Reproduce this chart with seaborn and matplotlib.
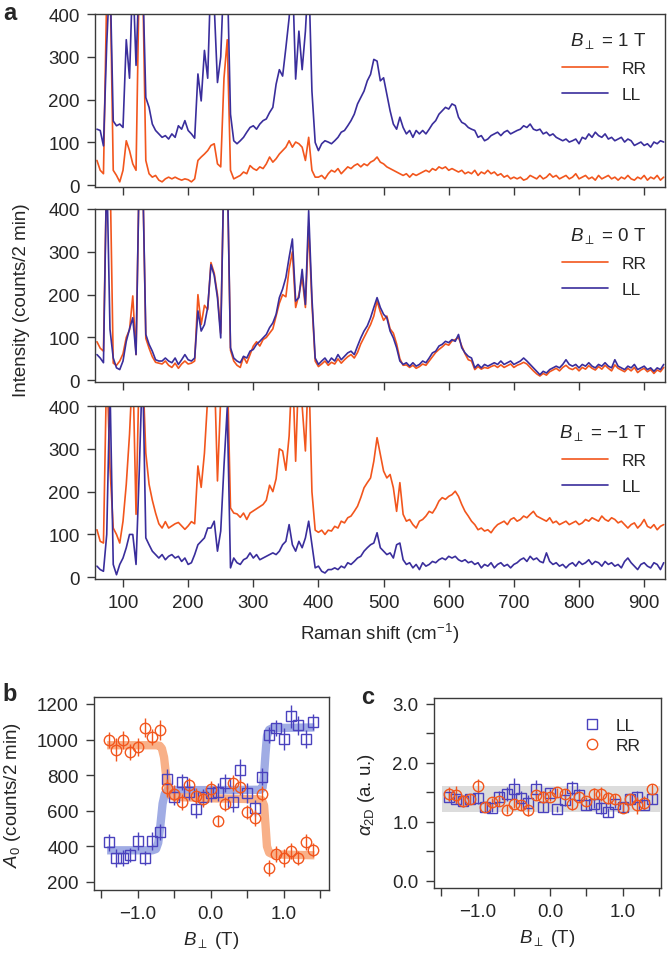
import numpy as np
import matplotlib.pyplot as plt
import pandas as pd
import seaborn as sns

# Raman shift grid (cm^-1)
shift = list(range(60, 935, 5))

# B = +1 T spectra
rr_1T = [58, 35, 27, 450, 500, 35, 23, 8, 35, 104,
         81, 50, 35, 500, 500, 58, 27, 19, 23, 12,
         8, 15, 19, 15, 19, 15, 12, 15, 13, 8,
         15, 58, 66, 73, 81, 93, 97, 50, 43, 250,
         340, 35, 15, 19, 23, 31, 27, 46, 39, 35,
         43, 39, 50, 66, 54, 62, 73, 81, 89, 104,
         89, 101, 97, 89, 58, 112, 35, 19, 19, 23,
         15, 27, 35, 31, 39, 27, 35, 43, 39, 46,
         50, 43, 50, 46, 54, 58, 66, 54, 50, 43,
         39, 35, 31, 27, 23, 27, 19, 27, 23, 27,
         31, 35, 31, 39, 35, 43, 39, 43, 35, 39,
         35, 31, 35, 27, 31, 27, 35, 23, 31, 27,
         35, 27, 31, 23, 27, 19, 23, 15, 19, 15,
         19, 12, 15, 23, 19, 15, 23, 15, 19, 27,
         19, 23, 15, 19, 23, 15, 19, 27, 15, 19,
         23, 15, 19, 12, 23, 15, 19, 23, 15, 19,
         12, 19, 15, 23, 15, 12, 19, 15, 23, 12,
         19, 15, 23, 12, 19]
ll_1T = [131, 128, 92, 330, 500, 150, 139, 143, 135, 340,
         250, 500, 280, 500, 500, 205, 182, 143, 128, 120,
         112, 116, 108, 120, 112, 139, 131, 151, 128, 120,
         110, 260, 197, 315, 250, 500, 420, 240, 300, 500,
         500, 166, 104, 97, 104, 112, 124, 135, 139, 131,
         143, 151, 155, 170, 182, 236, 270, 255, 321, 391,
         500, 248, 360, 270, 360, 500, 220, 100, 81, 97,
         104, 101, 97, 104, 112, 124, 128, 139, 151, 166,
         190, 205, 220, 244, 259, 294, 290, 244, 251, 213,
         174, 143, 131, 159, 135, 120, 128, 112, 128, 120,
         128, 120, 131, 143, 151, 166, 174, 182, 178, 190,
         186, 159, 147, 143, 135, 131, 128, 112, 116, 104,
         108, 116, 120, 124, 116, 124, 128, 120, 124, 128,
         131, 139, 135, 143, 131, 128, 131, 120, 124, 116,
         120, 112, 108, 104, 108, 101, 104, 108, 97, 112,
         108, 120, 112, 124, 116, 112, 120, 108, 112, 104,
         108, 112, 101, 108, 104, 93, 97, 101, 93, 97,
         89, 101, 97, 104, 101]

# B = 0 T spectra
rr_0T = [90, 75, 68, 500, 500, 40, 35, 45, 62, 100,
         118, 197, 60, 500, 500, 98, 75, 55, 42, 40,
         38, 45, 35, 30, 40, 28, 38, 45, 38, 40,
         45, 200, 130, 175, 165, 275, 250, 200, 110, 500,
         500, 70, 45, 35, 30, 55, 40, 60, 80, 90,
         80, 95, 100, 110, 120, 150, 180, 200, 195, 260,
         300, 170, 200, 240, 170, 360, 180, 45, 32, 38,
         45, 35, 42, 38, 50, 40, 48, 55, 60, 52,
         65, 85, 100, 115, 130, 150, 185, 160, 140, 150,
         120, 110, 85, 50, 35, 36, 30, 35, 28, 32,
         38, 35, 45, 55, 65, 72, 78, 85, 82, 92,
         95, 100, 80, 62, 48, 45, 25, 32, 26, 30,
         28, 32, 35, 30, 36, 30, 34, 38, 30, 35,
         38, 42, 38, 30, 22, 15, 10, 16, 12, 20,
         24, 28, 22, 30, 35, 28, 25, 30, 22, 30,
         26, 34, 28, 24, 32, 26, 35, 28, 22, 36,
         28, 24, 20, 28, 22, 30, 18, 24, 28, 20,
         25, 16, 24, 20, 30]
ll_0T = [60, 52, 41, 500, 119, 52, 29, 25, 45, 91,
         120, 146, 60, 500, 500, 107, 84, 68, 48, 45,
         45, 52, 45, 41, 52, 37, 48, 60, 48, 45,
         52, 162, 115, 130, 170, 270, 245, 193, 99, 500,
         500, 76, 52, 45, 41, 56, 52, 68, 72, 84,
         91, 99, 107, 123, 134, 154, 193, 213, 240, 287,
         330, 185, 193, 259, 177, 396, 193, 52, 37, 45,
         52, 41, 52, 45, 60, 48, 56, 64, 68, 60,
         80, 99, 115, 127, 146, 170, 193, 170, 154, 146,
         115, 99, 76, 45, 37, 41, 33, 41, 33, 37,
         45, 41, 52, 64, 68, 80, 84, 91, 88, 95,
         91, 107, 76, 64, 56, 52, 29, 37, 29, 37,
         33, 37, 41, 37, 45, 37, 41, 45, 37, 41,
         45, 52, 45, 37, 29, 21, 13, 21, 17, 25,
         29, 33, 29, 37, 48, 37, 33, 37, 29, 37,
         33, 41, 33, 29, 37, 33, 41, 33, 29, 48,
         33, 29, 25, 33, 29, 37, 25, 29, 33, 25,
         29, 21, 29, 25, 37]

# B = -1 T spectra
rr_m1T = [111, 84, 80, 500, 256, 115, 100, 80, 131, 217,
          334, 500, 147, 500, 500, 290, 217, 180, 150, 125,
          115, 130, 115, 120, 125, 128, 120, 112, 120, 130,
          125, 260, 210, 290, 420, 500, 500, 225, 420, 500,
          500, 162, 150, 148, 140, 150, 135, 150, 155, 160,
          165, 170, 180, 215, 200, 230, 300, 295, 250, 330,
          500, 271, 500, 400, 295, 500, 200, 110, 105, 110,
          100, 110, 108, 119, 115, 131, 127, 139, 143, 154,
          166, 186, 209, 221, 232, 271, 326, 287, 248, 232,
          240, 209, 154, 221, 147, 131, 135, 123, 115, 131,
          135, 143, 154, 150, 162, 178, 186, 182, 189, 193,
          201, 189, 170, 154, 143, 131, 123, 111, 115, 108,
          111, 104, 115, 123, 127, 131, 123, 135, 139, 131,
          135, 143, 139, 147, 154, 143, 139, 135, 131, 139,
          127, 131, 123, 127, 131, 123, 127, 131, 123, 127,
          135, 131, 139, 135, 131, 143, 135, 131, 139, 135,
          127, 131, 123, 115, 123, 127, 115, 123, 135, 119,
          115, 123, 111, 119, 123]
ll_m1T = [26, 18, 14, 100, 450, 30, 6, 30, 45, 69,
          100, 100, 30, 250, 500, 92, 76, 61, 53, 45,
          53, 41, 49, 53, 45, 49, 37, 45, 30, 34,
          53, 76, 84, 92, 115, 115, 131, 61, 108, 260,
          396, 22, 45, 34, 30, 41, 45, 57, 45, 53,
          41, 45, 49, 53, 57, 53, 61, 76, 84, 123,
          76, 61, 84, 69, 92, 131, 76, 22, 26, 14,
          10, 18, 18, 22, 18, 26, 22, 34, 30, 37,
          45, 49, 61, 69, 76, 80, 104, 69, 61, 53,
          57, 45, 76, 80, 41, 30, 34, 22, 30, 18,
          34, 26, 30, 37, 34, 41, 45, 41, 49, 45,
          49, 41, 37, 41, 34, 37, 30, 34, 22, 30,
          26, 34, 22, 30, 34, 26, 30, 22, 30, 34,
          41, 45, 37, 49, 41, 45, 37, 34, 57, 37,
          30, 34, 26, 30, 22, 30, 34, 26, 37, 30,
          34, 41, 30, 37, 34, 26, 37, 30, 34, 26,
          30, 22, 37, 45, 34, 26, 18, 30, 34, 26,
          22, 34, 30, 18, 34]

# field sweep (T)
bfield = [-1.4, -1.3, -1.2, -1.1, -1.0, -0.9, -0.8, -0.7, -0.6, -0.5,
          -0.4, -0.3, -0.2, -0.1, 0.0, 0.1, 0.2, 0.3, 0.4, 0.5,
          0.6, 0.7, 0.8, 0.9, 1.0, 1.1, 1.2, 1.3, 1.4]

# panel b: A0
a0_ll = [422, 336, 333, 350, 431, 333, 430, 479, 777, 680,
         763, 707, 612, 678, 700, 707, 758, 650, 830, 700,
         617, 792, 1023, 1063, 1004, 1130, 1080, 1004, 1101]
a0_ll_err = [50, 50, 45, 40, 50, 40, 50, 45, 55, 45,
             45, 45, 50, 45, 50, 50, 50, 55, 60, 55,
             45, 50, 45, 45, 60, 65, 55, 50, 45]
a0_rr = [997, 944, 997, 929, 959, 1067, 1012, 1054, 729, 697,
         650, 743, 682, 667, 724, 545, 640, 758, 735, 593,
         560, 697, 279, 355, 333, 374, 336, 425, 380]
a0_rr_err = [45, 65, 50, 45, 50, 55, 45, 55, 50, 45,
             45, 40, 45, 45, 45, 30, 40, 45, 45, 40,
             45, 40, 45, 45, 50, 45, 40, 45, 40]

# step fits in panel b
fit_rr_b = [-1.42, -0.75, -0.7, -0.67, -0.64, -0.61, -0.58, -0.55, -0.5, 0.0,
            0.65, 0.7, 0.73, 0.75, 0.77, 0.8, 0.85, 1.42]
fit_rr_a0 = [968, 968, 965, 950, 900, 790, 715, 685, 678, 670,
             665, 660, 630, 520, 400, 365, 355, 350]
fit_ll_b = [-1.42, -0.8, -0.75, -0.72, -0.69, -0.66, -0.63, -0.6, -0.55, 0.0,
            0.68, 0.71, 0.73, 0.75, 0.77, 0.8, 0.85, 1.42]
fit_ll_a0 = [378, 378, 385, 420, 520, 640, 695, 712, 716, 716,
             718, 730, 800, 920, 1020, 1055, 1065, 1068]

# panel c: alpha_2D
alpha_ll = [1.43, 1.39, 1.35, 1.38, 1.41, 1.25, 1.24, 1.43, 1.48, 1.56,
            1.41, 1.32, 1.56, 1.25, 1.49, 1.22, 1.37, 1.57, 1.45, 1.29,
            1.31, 1.24, 1.16, 1.31, 1.25, 1.39, 1.43, 1.29, 1.39]
alpha_ll_err = [0.08, 0.08, 0.07, 0.08, 0.1, 0.08, 0.07, 0.1, 0.12, 0.18,
                0.12, 0.14, 0.15, 0.08, 0.07, 0.05, 0.1, 0.12, 0.1, 0.08,
                0.08, 0.1, 0.08, 0.07, 0.08, 0.08, 0.1, 0.08, 0.08]
alpha_rr = [1.48, 1.46, 1.35, 1.39, 1.61, 1.26, 1.33, 1.35, 1.21, 1.31,
            1.28, 1.20, 1.45, 1.42, 1.43, 1.50, 1.48, 1.31, 1.42, 1.35,
            1.48, 1.48, 1.41, 1.39, 1.24, 1.38, 1.28, 1.32, 1.56]
alpha_rr_err = [0.12, 0.15, 0.1, 0.08, 0.12, 0.08, 0.08, 0.08, 0.08, 0.08,
                0.08, 0.1, 0.08, 0.1, 0.08, 0.08, 0.08, 0.1, 0.08, 0.08,
                0.1, 0.12, 0.1, 0.08, 0.08, 0.1, 0.14, 0.12, 0.08]
band_b = [-1.49, 1.51]
band_lo, band_hi = 1.16, 1.61

ORANGE = "#F2561D"
BLUE = "#3A2E9C"
MK_BLUE = "#4A42BE"
FRAME = "#3a3a3a"
FS = 13.5

sns.set_style("ticks")
plt.rcParams['font.family'] = ['Liberation Sans', 'DejaVu Sans']
plt.rcParams['mathtext.fontset'] = 'custom'
plt.rcParams['mathtext.rm'] = 'Liberation Sans'
plt.rcParams['mathtext.it'] = 'Liberation Sans:italic'
plt.rcParams['font.size'] = FS


def style_axes(ax):
    for s in ax.spines.values():
        s.set_color(FRAME)
        s.set_linewidth(1.0)
    ax.tick_params(which='both', direction='out', length=6, width=1.0,
                   color=FRAME, labelsize=FS, pad=5)


fig = plt.figure(figsize=(6.68, 9.54), dpi=100)
W, H = 668.0, 954.0


def add_ax(left, top, right, bottom):
    return fig.add_axes([left / W, 1 - bottom / H, (right - left) / W, (bottom - top) / H])


spectra = [("1", rr_1T, ll_1T, 15, 188),
           ("0", rr_0T, ll_0T, 210, 383),
           ("\u22121", rr_m1T, ll_m1T, 407, 580)]
for i, (lab, rr, ll, top, bot) in enumerate(spectra):
    ax = add_ax(95, top, 665, bot)
    df = pd.DataFrame({'shift': shift, 'RR': rr, 'LL': ll})
    long = df.melt(id_vars='shift', var_name='pol', value_name='counts')
    sns.lineplot(data=long, x='shift', y='counts', hue='pol', hue_order=['RR', 'LL'],
                 palette={'RR': ORANGE, 'LL': BLUE}, estimator=None, lw=1.2, ax=ax)
    ax.set_xlim(57, 932)
    ax.set_ylim(-4, 400)
    ax.set_xticks(range(100, 1000, 100))
    ax.set_yticks(range(0, 500, 100))
    style_axes(ax)
    ax.set_ylabel("")
    if i < 2:
        ax.set_xticklabels([])
        ax.set_xlabel("")
    else:
        ax.set_xlabel("Raman shift (cm$^{-1}$)", fontsize=FS, labelpad=7)
    ax.legend(title=r"$B_{\perp}$ = " + lab + " T", loc='upper right',
              bbox_to_anchor=(0.995, 0.995), frameon=False, fontsize=12.5,
              title_fontsize=13.5, handlelength=2.6, labelspacing=0.6,
              alignment='right')

fig.text(22 / W, 1 - 300 / H, "Intensity (counts/2 min)", rotation=90,
         ha='center', va='center', fontsize=FS)

# panel b
axb = add_ax(94, 698, 329, 891)
sns.lineplot(x=fit_ll_b, y=fit_ll_a0, color="#8090DC", lw=6, alpha=0.75, ax=axb,
             solid_capstyle='butt', sort=False)
sns.lineplot(x=fit_rr_b, y=fit_rr_a0, color="#F7A273", lw=6, alpha=0.85, ax=axb,
             solid_capstyle='butt', sort=False)
axb.errorbar(bfield, a0_ll, yerr=a0_ll_err, fmt='s', mfc='none', mec=MK_BLUE,
             ecolor=MK_BLUE, ms=7, mew=1.0, elinewidth=1.0, capsize=0)
axb.errorbar(bfield, a0_rr, yerr=a0_rr_err, fmt='o', mfc='none', mec=ORANGE,
             ecolor=ORANGE, ms=7.5, mew=1.0, elinewidth=1.0, capsize=0)
axb.set_xlim(-1.6, 1.62)
axb.set_ylim(155, 1239)
axb.set_yticks(range(200, 1400, 200))
axb.set_xticks([-1.0, 0.0, 1.0])
axb.set_xticks([-1.5, -0.5, 0.5, 1.5], minor=True)
axb.set_xticklabels(["\u22121.0", "0.0", "1.0"])
style_axes(axb)
axb.set_xlabel(r"$B_{\perp}$ (T)", fontsize=FS, labelpad=5)
axb.set_ylabel(r"$A_0$ (counts/2 min)", fontsize=FS)
axb.yaxis.set_label_coords(-0.30, 0.5)

# panel c
axc = add_ax(434, 699, 661, 889)
axc.fill_between(band_b, band_lo, band_hi, color="#dcdcdc", lw=0, zorder=0)
axc.errorbar(bfield, alpha_ll, yerr=alpha_ll_err, fmt='s', mfc='none', mec=MK_BLUE,
             ecolor=MK_BLUE, ms=7, mew=1.0, elinewidth=1.0, capsize=0, label='LL')
axc.errorbar(bfield, alpha_rr, yerr=alpha_rr_err, fmt='o', mfc='none', mec=ORANGE,
             ecolor=ORANGE, ms=7.5, mew=1.0, elinewidth=1.0, capsize=0, label='RR')
axc.set_xlim(-1.6, 1.53)
axc.set_ylim(-0.12, 3.1)
axc.set_yticks([0.0, 1.0, 2.0, 3.0])
axc.set_yticks([0.5, 1.5, 2.5], minor=True)
axc.set_yticklabels(["0.0", "1.0", "2.0", "3.0"])
axc.set_xticks([-1.0, 0.0, 1.0])
axc.set_xticks([-1.5, -0.5, 0.5, 1.5], minor=True)
axc.set_xticklabels(["\u22121.0", "0.0", "1.0"])
style_axes(axc)
axc.set_xlabel(r"$B_{\perp}$ (T)", fontsize=FS, labelpad=5)
axc.set_ylabel(r"$\alpha_{\mathrm{2D}}$ (a. u.)", fontsize=FS)
axc.yaxis.set_label_coords(-0.25, 0.5)
h, l = axc.get_legend_handles_labels()
h = [x[0] for x in h]
axc.legend(h, l, loc='upper right', bbox_to_anchor=(0.98, 0.98), frameon=False,
           fontsize=12.5, handletextpad=0.4, labelspacing=0.3)

fig.text(3 / W, 1 - 2 / H, "a", fontsize=17, fontweight='bold', va='top')
fig.text(2 / W, 1 - 683 / H, "b", fontsize=17, fontweight='bold', va='top')
fig.text(361 / W, 1 - 686 / H, "c", fontsize=17, fontweight='bold', va='top')

fig.savefig("out.png", dpi=100)
